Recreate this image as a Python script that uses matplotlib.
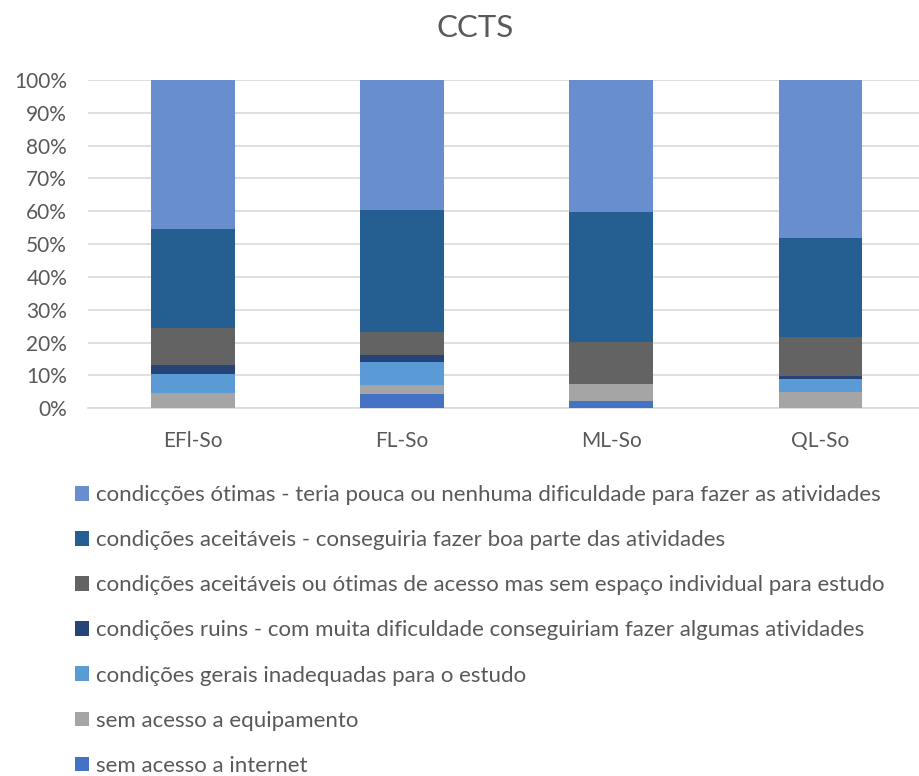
import matplotlib
matplotlib.use("Agg")
import matplotlib.pyplot as plt
from matplotlib.patches import Patch
import numpy as np

plt.rcParams['font.family'] = ['Lato', 'DejaVu Sans']

categories = ["EFl-So", "FL-So", "ML-So", "QL-So"]

# segment shares (%) stacked bottom -> top
sem_internet = [0.0, 4.3, 2.3, 0.0]
sem_equipamento = [4.6, 2.7, 5.2, 5.0]
cond_gerais_inadequadas = [5.8, 7.0, 0.0, 3.8]
cond_ruins = [2.7, 2.3, 0.0, 1.1]
sem_espaco = [11.4, 7.0, 12.6, 11.7]
cond_aceitaveis = [30.2, 37.2, 39.7, 30.3]
cond_otimas = [45.3, 39.5, 40.2, 48.1]

series = [
    ("sem acesso a internet", sem_internet, "#4472C4"),
    ("sem acesso a equipamento", sem_equipamento, "#A5A5A5"),
    ("condições gerais inadequadas para o estudo", cond_gerais_inadequadas, "#5B9BD5"),
    ("condições ruins - com muita dificuldade conseguiriam fazer algumas atividades", cond_ruins, "#264478"),
    ("condições aceitáveis ou ótimas de acesso mas sem espaço individual para estudo", sem_espaco, "#636363"),
    ("condições aceitáveis - conseguiria fazer boa parte das atividades", cond_aceitaveis, "#255E91"),
    ("condicções ótimas - teria pouca ou nenhuma dificuldade para fazer as atividades", cond_otimas, "#698ED0"),
]

W, H = 920, 776
fig = plt.figure(figsize=(W / 100, H / 100), dpi=100)
left, right = 88 / W, 920 / W
bottom, top = (H - 408.3) / H, (H - 80) / H
ax = fig.add_axes([left, bottom, right - left, top - bottom])

x = np.arange(len(categories))
bottoms = np.zeros(len(categories))
for label, vals, color in series:
    v = np.array(vals) / 100.0
    ax.bar(x, v, width=0.4, bottom=bottoms, color=color, label=label, zorder=3)
    bottoms += v

ax.set_ylim(0, 1)
ax.set_xlim(-0.5, -0.5 + (920 - 88) / 209.3)
ax.set_yticks(np.arange(0, 1.01, 0.1))
ax.set_yticklabels([f"{int(round(t * 100))}%" for t in np.arange(0, 1.01, 0.1)])
ax.set_xticks(x)
ax.set_xticklabels(categories)
ax.tick_params(axis='both', length=0, labelsize=15, colors="#595959")
ax.tick_params(axis='x', pad=16)
ax.tick_params(axis='y', pad=15)
ax.grid(axis='y', color="#D9D9D9", linewidth=1.2, zorder=0)
for s in ["top", "right", "left"]:
    ax.spines[s].set_visible(False)
ax.spines["bottom"].set_color("#D9D9D9")
ax.spines["bottom"].set_linewidth(1.2)

fig.text(475 / W, 1 - 28 / H, "CCTS", ha="center", va="center", fontsize=22.5, color="#595959")

handles = [Patch(facecolor=c, edgecolor='none') for _, _, c in series][::-1]
labels = [l for l, _, _ in series][::-1]
fig.legend(handles, labels, loc="upper left", bbox_to_anchor=(64 / W, 1 - 474 / H),
           frameon=False, fontsize=16, labelcolor="#595959", borderpad=0,
           handlelength=0.63, handleheight=0.63, handletextpad=0.3, labelspacing=1.13)

fig.savefig("out.png", dpi=100)
